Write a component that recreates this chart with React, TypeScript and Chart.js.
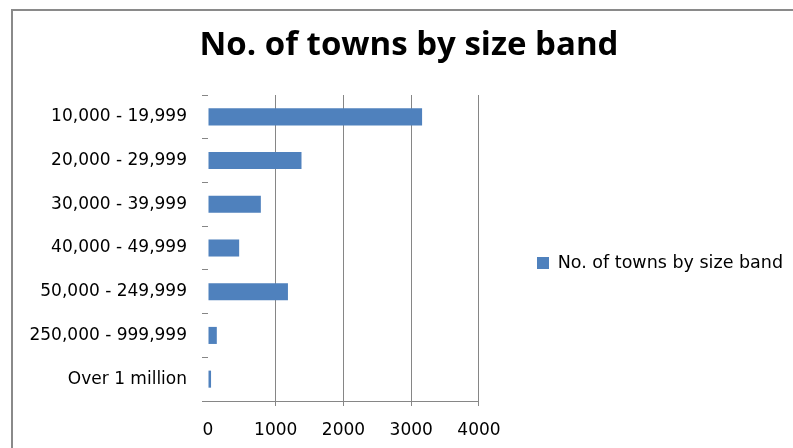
import React, { useEffect, useRef } from "react";
import { Chart, registerables } from "chart.js";

Chart.register(...registerables);

const categories = [
  "10,000 - 19,999",
  "20,000 - 29,999",
  "30,000 - 39,999",
  "40,000 - 49,999",
  "50,000 - 249,999",
  "250,000 - 999,999",
  "Over 1 million",
];
const townCounts = [3160, 1380, 780, 460, 1180, 130, 45];
const seriesName = "No. of towns by size band";
const chartTitle = "No. of towns by size band";
const xMin = 0;
const xMax = 4000;
const xStep = 1000;

const LABEL_FONT = "'DejaVu Sans', sans-serif";

export default function App() {
  const canvasRef = useRef<HTMLCanvasElement | null>(null);

  useEffect(() => {
    document.body.style.margin = "0";
    const canvas = canvasRef.current;
    if (!canvas) return;
    const chart = new Chart(canvas, {
      type: "bar",
      data: {
        labels: categories,
        datasets: [
          {
            label: seriesName,
            data: townCounts,
            backgroundColor: "#4F81BD",
            borderWidth: 0,
            categoryPercentage: 1,
            barPercentage: 0.39,
          },
        ],
      },
      options: {
        indexAxis: "y",
        animation: false,
        responsive: false,
        maintainAspectRatio: false,
        layout: { padding: { left: 25, right: 0, top: 0, bottom: 7 } },
        plugins: {
          title: {
            display: true,
            text: chartTitle,
            color: "#000",
            font: { family: "'Open Sans', sans-serif", size: 33, weight: "bold", lineHeight: 1.2 },
            padding: { top: 26, bottom: 29.4 },
          },
          legend: {
            display: true,
            position: "right",
            fullSize: false,
            align: "center",
            maxWidth: 400,
            title: {
              display: true,
              text: " ",
              font: { size: 10, lineHeight: 1.2 },
              padding: { top: 0, bottom: 18 },
            },
            labels: {
              color: "#000",
              font: { family: LABEL_FONT, size: 17.5 },
              boxWidth: 12,
              boxHeight: 12,
              padding: 58,
            },
          },
          tooltip: { enabled: false },
        },
        scales: {
          x: {
            type: "linear",
            min: xMin,
            max: xMax,
            ticks: {
              stepSize: xStep,
              color: "#000",
              font: { family: LABEL_FONT, size: 17 },
              padding: 14,
              callback: (value: any) => String(value),
            },
            grid: {
              color: (ctx: any) => (ctx.index === 0 ? "rgba(0,0,0,0)" : "#868686"),
              lineWidth: 1,
              tickLength: 5,
            },
            border: { display: true, color: "#868686", width: 1 },
            afterFit: (scale: any) => {
              scale.height = 40;
            },
          },
          y: {
            type: "category",
            offset: true,
            ticks: {
              color: "#000",
              font: { family: LABEL_FONT, size: 17 },
              padding: 15,
            },
            grid: {
              offset: true,
              drawOnChartArea: false,
              drawTicks: true,
              tickLength: 6,
              color: "#868686",
            },
            border: { display: false },
            afterFit: (scale: any) => {
              scale.width = 183;
            },
          },
        },
      },
    });
    return () => chart.destroy();
  }, []);

  return (
    <div style={{ position: "relative", width: 793, height: 448, overflow: "hidden", background: "#fff" }}>
      <canvas ref={canvasRef} width={793} height={448} style={{ position: "absolute", left: 0, top: 0 }} />
      <div
        style={{
          position: "absolute",
          left: 11,
          top: 9,
          width: 900,
          height: 600,
          borderLeft: "2px solid #8a8a8a",
          borderTop: "2px solid #8a8a8a",
          pointerEvents: "none",
        }}
      />
    </div>
  );
}
